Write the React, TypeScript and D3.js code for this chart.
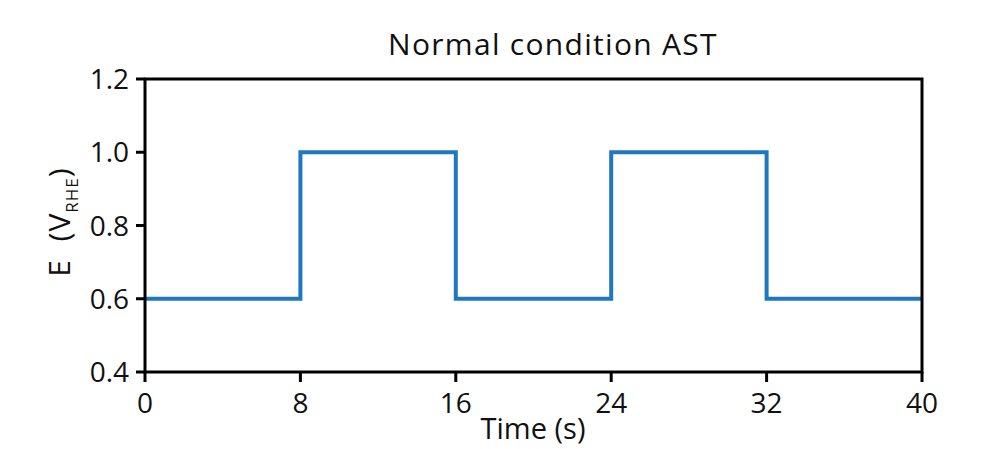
import React from "react";
import * as d3 from "d3";

const timeValues = [0, 8, 8, 16, 16, 24, 24, 32, 32, 40];
const potentialValues = [0.6, 0.6, 1.0, 1.0, 0.6, 0.6, 1.0, 1.0, 0.6, 0.6];
const xTicks = [0, 8, 16, 24, 32, 40];
const yTicks = [0.4, 0.6, 0.8, 1.0, 1.2];

const W = 985, H = 449;
const L = 145, R = 922, T = 79, B = 372;
const FONT = "'Open Sans', 'Noto Sans', sans-serif";

export default function App() {
  const x = d3.scaleLinear().domain([0, 40]).range([L, R]);
  const y = d3.scaleLinear().domain([0.4, 1.2]).range([B, T]);
  const pts = timeValues.map((t, i) => [t, potentialValues[i]] as [number, number]);
  const line = d3.line<[number, number]>().x(d => x(d[0])).y(d => y(d[1]));
  return (
    <svg width={W} height={H} style={{ position: "absolute", left: 0, top: 0, background: "#fff" }}>
      <rect x={0} y={0} width={W} height={H} fill="#fff" />
      <path d={line(pts) || ""} fill="none" stroke="#1f78be" strokeWidth={4} strokeLinejoin="miter" />
      <rect x={L} y={T} width={R - L} height={B - T} fill="none" stroke="#000" strokeWidth={3} />
      {yTicks.map(v => (
        <g key={v}>
          <line x1={L - 9} x2={L} y1={y(v)} y2={y(v)} stroke="#000" strokeWidth={3} />
          <text x={L - 16} y={y(v)} dy="0.36em" textAnchor="end" fontFamily={FONT} fontSize={28} fill="#111">{v.toFixed(1)}</text>
        </g>
      ))}
      {xTicks.map(v => (
        <g key={v}>
          <line x1={x(v)} x2={x(v)} y1={B} y2={B + 10} stroke="#000" strokeWidth={3} />
          <text x={x(v)} y={413} textAnchor="middle" fontFamily={FONT} fontSize={28} fill="#111">{v}</text>
        </g>
      ))}
      <text x={533} y={439} textAnchor="middle" fontFamily={FONT} fontSize={29} fill="#111">Time (s)</text>
      <text transform={`translate(70,222) rotate(-90)`} textAnchor="middle" fontFamily={FONT} fontSize={30} fill="#111" letterSpacing={1}>
        {"E\u00A0\u00A0(V"}<tspan fontSize={17} dy={8}>RHE</tspan><tspan dy={-8}>)</tspan>
      </text>
      <text x={553} y={55} textAnchor="middle" fontFamily={FONT} fontSize={30} letterSpacing={1.3} fill="#111">Normal condition AST</text>
    </svg>
  );
}
